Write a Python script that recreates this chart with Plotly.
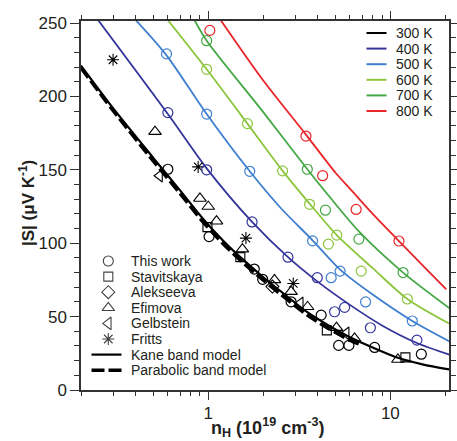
import math
import plotly.graph_objects as go

# ---------------- data ----------------
# model curves, |S| (uV/K) vs Hall carrier density n_H (1e19 cm^-3)
kane300_x = [0.2, 0.3, 0.5, 0.7, 0.93, 1.2, 1.5, 2, 2.73, 3.5, 4.5, 6, 8, 11, 15, 21]
kane300_y = [221, 192, 158, 136, 117, 102, 90.5, 77, 63.5, 53, 44.5, 36, 29, 22, 17.5, 14]
para300_x = [0.2, 0.3, 0.5, 0.7, 0.93, 1.2, 1.5, 2, 2.73, 3.5, 4.5, 6, 7]
para300_y = [219.5, 190.5, 156, 134, 115, 100, 88.5, 75, 61.5, 51, 42.5, 34, 30.5]

kane400_x = [0.245, 0.6, 0.98, 1.74, 2.74, 3.97, 6, 9, 14, 21.2]
kane400_y = [253, 188, 151, 114.5, 90.5, 74, 58, 44, 32, 24]
kane500_x = [0.40, 0.59, 0.98, 1.69, 2.5, 3.74, 5.3, 8, 13.2, 21.2]
kane500_y = [252, 228, 188, 149, 124, 102, 82, 65, 47, 33]
kane600_x = [0.6, 0.98, 1.64, 2.56, 3.6, 5.08, 8, 12.4, 21.2]
kane600_y = [252, 218.5, 181.5, 149.3, 127, 105.5, 83, 62, 45]
kane700_x = [0.84, 0.98, 2, 3.5, 4.54, 6.72, 11.75, 21.2]
kane700_y = [252, 238, 189.5, 150.4, 133, 108, 80, 55.6]
kane800_x = [1.17, 2, 3.44, 5, 6.12, 8, 11.15, 15, 20.3]
kane800_y = [252, 211, 174, 148, 136, 120, 101.5, 85, 68.5]

# measured points (this work)
tw300_x = [0.6, 1.01, 1.79, 1.99, 2.85, 4.17, 5.2, 5.92, 8.2, 14.8]
tw300_y = [150.4, 104.5, 82.4, 75.4, 60.1, 51, 30.4, 30.4, 29, 24.4]
tw400_x = [0.6, 0.98, 1.74, 2.74, 3.97, 4.94, 5.61, 7.77, 14.0]
tw400_y = [189, 150, 114.5, 90.5, 76.5, 53.3, 56.3, 42.4, 34]
tw500_x = [0.59, 0.98, 1.69, 3.74, 4.73, 5.30, 7.31, 13.2]
tw500_y = [229, 188, 149, 101.6, 76.5, 81, 60, 47]
tw600_x = [0.98, 1.64, 2.56, 3.6, 4.57, 5.08, 6.92, 12.4]
tw600_y = [218.5, 181.5, 149.3, 126.5, 99.4, 105.5, 81, 62]
tw700_x = [0.98, 3.5, 4.40, 6.72, 11.75]
tw700_y = [238, 150.4, 122.5, 102.8, 80]
tw800_x = [1.02, 3.44, 4.25, 6.49, 11.15]
tw800_y = [245, 173, 146, 123, 101.5]

# literature data at 300 K
stav_x = [0.99, 1.50, 4.48, 12.1]
stav_y = [111, 90.5, 40.6, 22.2]
alek_x = [2.25]
alek_y = [70.5]
efim_x = [0.51, 0.90, 1.0, 1.11, 1.54, 2.31, 2.85, 3.51, 5.06, 6.36, 11.0]
efim_y = [176, 130.5, 125, 115, 96, 75, 67, 56.7, 42.5, 35.2, 20.8]
gelb_x = [0.54, 3.20, 5.72]
gelb_y = [146, 59, 38.6]
fritts_x = [0.3, 0.88, 1.61, 2.93]
fritts_y = [225, 152, 103.5, 72.6]

temps = ["300 K", "400 K", "500 K", "600 K", "700 K", "800 K"]
colors = ["#000000", "#34359a", "#3f7fd0", "#8cc63e", "#45a845", "#e8262a"]
lit_names = ["This work", "Stavitskaya", "Alekseeva", "Efimova", "Gelbstein", "Fritts"]
lit_symbols = ["circle", "square", "diamond", "triangle-up", "triangle-left", "asterisk-open"]
model_names = ["Kane band model", "Parabolic band model"]

x_ticks = [1, 10]
x_minor = [0.2, 0.3, 0.4, 0.5, 0.6, 0.7, 0.8, 0.9, 2, 3, 4, 5, 6, 7, 8, 9, 20]
y_ticks = [0, 50, 100, 150, 200, 250]

# ---------------- layout constants ----------------
W, H = 457, 441
ML, MR, MT, MB = 81, 8, 21, 51
PW, PH = W - ML - MR, H - MT - MB
FONT = "Liberation Sans, Arial, sans-serif"
TXT = "#231f20"
LEG_FONT = 14

fig = go.Figure()

# model curves
curves = [
    (kane800_x, kane800_y, colors[5]),
    (kane700_x, kane700_y, colors[4]),
    (kane600_x, kane600_y, colors[3]),
    (kane500_x, kane500_y, colors[2]),
    (kane400_x, kane400_y, colors[1]),
]
for cx, cy, col in curves:
    fig.add_trace(go.Scatter(x=cx, y=cy, mode="lines",
                             line=dict(color=col, width=1.8, shape="spline", smoothing=0.8),
                             showlegend=False, hoverinfo="skip"))
fig.add_trace(go.Scatter(x=para300_x, y=para300_y, mode="lines",
                         line=dict(color="black", width=3.6, dash="12px,4px", shape="spline", smoothing=0.8),
                         showlegend=False, hoverinfo="skip"))
fig.add_trace(go.Scatter(x=kane300_x, y=kane300_y, mode="lines",
                         line=dict(color="black", width=2.2, shape="spline", smoothing=0.8),
                         showlegend=False, hoverinfo="skip"))


def lit(x, y, sym, size=10):
    open_sym = sym.endswith("-open")
    fig.add_trace(go.Scatter(
        x=x, y=y, mode="markers", showlegend=False,
        marker=dict(symbol=sym, size=size,
                    color="black" if open_sym else "rgba(255,255,255,0)",
                    line=dict(color="black", width=1.1))))


lit(stav_x, stav_y, "square", 9)
lit(alek_x, alek_y, "diamond", 10)
lit(efim_x, efim_y, "triangle-up", 11)
lit(gelb_x, gelb_y, "triangle-left", 11)
lit(fritts_x, fritts_y, "asterisk-open", 10)

# this work, coloured by temperature
tw = [(tw300_x, tw300_y), (tw400_x, tw400_y), (tw500_x, tw500_y),
      (tw600_x, tw600_y), (tw700_x, tw700_y), (tw800_x, tw800_y)]
for (px, py), col in zip(tw, colors):
    fig.add_trace(go.Scatter(x=px, y=py, mode="markers", showlegend=False,
                             marker=dict(symbol="circle", size=10, color="rgba(255,255,255,0)",
                                         line=dict(color=col, width=1.2))))

# ---------------- legends (drawn on a pixel-space overlay axis) ----------------
x0_pix, x1_pix = ML, W - MR
y0_pix, y1_pix = H - MB, MT


def leg_text(x, y, text):
    fig.add_annotation(x=x, y=y, xref="x2", yref="y2", text=text, showarrow=False, borderpad=0,
                       xanchor="left", yanchor="middle", font=dict(family=FONT, size=LEG_FONT, color=TXT))


leg1_line = (366.5, 386.5)
leg1_rows = [33 + 15.6 * i for i in range(6)]
for name, col, yy in zip(temps, colors, leg1_rows):
    fig.add_trace(go.Scatter(x=list(leg1_line), y=[yy, yy], xaxis="x2", yaxis="y2", mode="lines",
                             line=dict(color=col, width=2), showlegend=False, hoverinfo="skip"))
    leg_text(395, yy, name)

leg2_sym_x = 108.3
leg2_text_x = 130
leg2_rows = [261 + 15.6 * i for i in range(8)]
sizes = [10, 9, 10, 11, 11, 10]
for name, sym, sz, yy in zip(lit_names, lit_symbols, sizes, leg2_rows[:6]):
    open_sym = sym.endswith("-open")
    fig.add_trace(go.Scatter(x=[leg2_sym_x], y=[yy], xaxis="x2", yaxis="y2", mode="markers",
                             showlegend=False, hoverinfo="skip",
                             marker=dict(symbol=sym, size=sz,
                                         color="#444" if open_sym else "rgba(255,255,255,0)",
                                         line=dict(color="#444", width=1.1))))
    leg_text(leg2_text_x, yy, name)
fig.add_trace(go.Scatter(x=[91.5, 121.5], y=[leg2_rows[6]] * 2, xaxis="x2", yaxis="y2", mode="lines",
                         line=dict(color="black", width=2.2), showlegend=False, hoverinfo="skip"))
fig.add_trace(go.Scatter(x=[91.5, 121.5], y=[leg2_rows[7]] * 2, xaxis="x2", yaxis="y2", mode="lines",
                         line=dict(color="black", width=3.6, dash="13px,4px"), showlegend=False, hoverinfo="skip"))
for name, yy in zip(model_names, leg2_rows[6:]):
    leg_text(leg2_text_x, yy, name)

# axis titles
fig.add_annotation(text="<b>|S| (μV K<sup>-1</sup>)</b>", textangle=-90, showarrow=False,
                   xref="paper", yref="paper", x=(27 - ML) / PW, y=(H - MB - 203) / PH,
                   xanchor="center", yanchor="middle", font=dict(family=FONT, size=17, color=TXT))
fig.add_annotation(text="<b>n<sub>H</sub> (10<sup>19</sup> cm<sup>-3</sup>)</b>", showarrow=False,
                   xref="paper", yref="paper", x=(267 - ML) / PW, y=(H - MB - 441) / PH,
                   xanchor="center", yanchor="bottom", borderpad=0,
                   font=dict(family=FONT, size=18, color=TXT))

# ---------------- axes ----------------
axis_common = dict(showline=True, linewidth=1.5, linecolor="#333", mirror="allticks",
                   ticks="outside", tickcolor="#333", tickwidth=1.3, showgrid=False, zeroline=False,
                   automargin=False, tickfont=dict(family=FONT, size=17, color=TXT))

fig.update_layout(
    template="none",
    width=W, height=H,
    margin=dict(l=ML, r=MR, t=MT, b=MB, pad=0, autoexpand=False),
    paper_bgcolor="white", plot_bgcolor="white",
    showlegend=False,
    xaxis=dict(type="log", range=[math.log10(0.2), math.log10(21)],
               tickvals=x_ticks, ticktext=[str(v) for v in x_ticks], ticklen=8, ticklabelstandoff=-1,
               minor=dict(tickvals=x_minor, ticks="outside", ticklen=4, tickcolor="#333", tickwidth=1.2),
               **axis_common),
    yaxis=dict(range=[0, 251.4], tickvals=y_ticks, ticklen=9,
               minor=dict(dtick=10, ticks="outside", ticklen=5, tickcolor="#333", tickwidth=1.2),
               **axis_common),
    xaxis2=dict(overlaying="x", range=[x0_pix, x1_pix], visible=False, fixedrange=True),
    yaxis2=dict(overlaying="y", range=[y0_pix, y1_pix], visible=False, fixedrange=True),
)

fig.write_html("out.html")
